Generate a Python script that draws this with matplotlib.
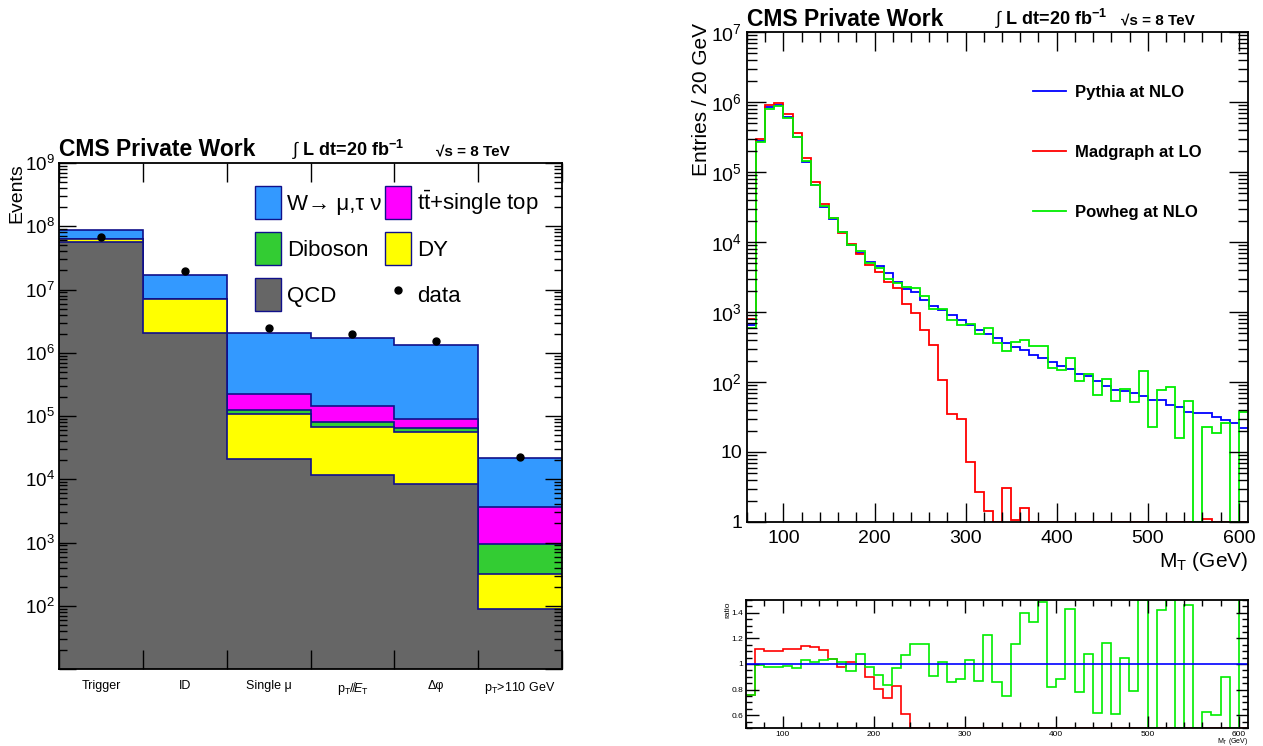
import numpy as np
import matplotlib
matplotlib.use("Agg")
import matplotlib.pyplot as plt
from matplotlib.ticker import FixedLocator, NullFormatter, FuncFormatter, MultipleLocator, LogLocator
from matplotlib.patches import Patch
from matplotlib.lines import Line2D

plt.rcParams['font.family'] = ['Liberation Sans', 'DejaVu Sans']
plt.rcParams['mathtext.fontset'] = 'custom'
plt.rcParams['mathtext.rm'] = 'Liberation Sans'
plt.rcParams['mathtext.it'] = 'Liberation Sans:italic'
plt.rcParams['mathtext.bf'] = 'Liberation Sans:bold'

# --- cut flow (left) ---
cuts = ["Trigger", "ID", "Single μ", r"p$_\mathrm{T}$/$\not{E}_\mathrm{T}$", "Δφ", r"p$_\mathrm{T}$>110 GeV"]
qcd = [5.6e7, 2.05e6, 2.1e4, 1.15e4, 8.3e3, 89]
dy = [7.6e6, 5.0e6, 8.6e4, 5.45e4, 4.67e4, 231]
diboson = [1e5, 3e4, 1.6e4, 1.4e4, 1.0e4, 640]
top = [3e5, 6e4, 9.7e4, 6.5e4, 2.6e4, 2740]
wjets = [2.3e7, 9.9e6, 1.83e6, 1.555e6, 1.24e6, 1.78e4]
data = [6.7e7, 1.95e7, 2.45e6, 1.95e6, 1.53e6, 2.23e4]

# --- M_T spectra (right), 10 GeV bins from 60 to 610 ---
mt_lo = 60
mt_hi = 610
pythia = [650, 2.8e5, 8.5e5, 8.96e5, 6.1e5, 3.16e5, 1.39e5, 6.52e4, 3.16e4, 2.15e4,
          1.39e4, 9.16e3, 7.05e3, 5.18e3, 4.55e3, 3.6e3, 2.65e3, 2.15e3, 1.9e3, 1.5e3,
          1.23e3, 1.06e3, 893, 757, 656, 557, 483, 419, 363, 315,
          288, 245, 217, 190, 170, 152, 131, 122, 105, 89,
          77, 75, 69, 63, 55, 55, 46.6, 43.6, 37.4, 36.6,
          36.6, 32, 28.7, 25.7, 21.8]
madgraph = [785, 2.93e5, 9.16e5, 9.7e5, 6.74e5, 3.56e5, 1.58e5, 7.28e4, 3.53e4, 2.2e4,
            1.36e4, 9.36e3, 6.8e3, 4.74e3, 3.7e3, 2.65e3, 2.2e3, 1.31e3, 955, 562,
            333, 106, 35, 29.4, 7.2, 2.68, 1.42, 0, 3.02, 1.06,
            1.58, 0, 0, 0, 0, 0, 0, 0, 0, 0,
            0, 0, 0, 0, 0, 0, 0, 0, 0, 0,
            1.1, 0, 0, 0, 0]
powheg = [590, 2.66e5, 8.0e5, 8.67e5, 5.97e5, 3.13e5, 1.45e5, 6.45e4, 3.3e4, 2.2e4,
          1.4e4, 9.06e3, 7.36e3, 4.96e3, 4.2e3, 2.95e3, 2.6e3, 2.27e3, 2.17e3, 1.71e3,
          1.12e3, 1.1e3, 774, 656, 670, 489, 582, 359, 275, 367,
          396, 325, 325, 157, 149, 217, 102, 132, 65, 112,
          53.7, 80.7, 52.5, 143, 22.5, 77, 86, 16, 54, 0,
          22.5, 18.5, 25.7, 0, 37]

# ratio panel values
ratio_mad = [0.76, 1.119, 1.103, 1.10, 1.119, 1.119, 1.142, 1.131, 1.113, 1.036,
             0.979, 1.015, 0.997, 0.897, 0.807, 0.735, 0.83, 0.61, 0.50, 0.37,
             0.27, 0.10, 0.04, 0.04, 0.01, 0.01, 0, 0, 0, 0,
             0, 0, 0, 0, 0, 0, 0, 0, 0, 0,
             0, 0, 0, 0, 0, 0, 0, 0, 0, 0,
             0, 0, 0, 0, 0]
ratio_pow = [0.755, 0.99, 0.977, 0.979, 0.987, 0.972, 1.028, 1.018, 1.031, 1.041,
             1.013, 0.948, 1.077, 0.977, 0.915, 0.838, 0.969, 1.072, 1.155, 1.157,
             0.907, 1.018, 0.858, 0.879, 1.034, 0.869, 1.224, 0.863, 0.753, 1.157,
             1.397, 1.33, 1.487, 0.817, 0.881, 1.43, 0.778, 1.082, 0.621, 1.165,
             0.613, 1.049, 0.786, 2.27, 0.41, 1.418, 1.85, 0.37, 1.461, 0.0,
             0.624, 0.603, 0.902, 0.0, 1.7]

W, H = 1263, 746
fig = plt.figure(figsize=(W / 100, H / 100), dpi=100)
navy = '#10108a'


def px(x0, y0, x1, y1):
    return [x0 / W, 1 - y1 / H, (x1 - x0) / W, (y1 - y0) / H]


def root_ticks(ax, major, minor):
    ax.tick_params(which='both', direction='in', top=True, right=True, width=1)
    ax.tick_params(which='major', length=major)
    ax.tick_params(which='minor', length=minor)
    for s in ax.spines.values():
        s.set_linewidth(1.3)


def pow10(v, pos):
    if v == 1:
        return '1'
    if v == 10:
        return '10'
    return r'$10^{%d}$' % round(np.log10(v))


def pow10_nobottom(v, pos):
    if v <= 10:
        return ''
    return r'$10^{%d}$' % round(np.log10(v))


# ================= left panel =================
ax = fig.add_axes(px(59, 163, 562, 669))
edges = np.arange(len(cuts) + 1)
centers = edges[:-1] + 0.5
c1 = np.array(qcd)
c2 = c1 + np.array(dy)
c3 = c2 + np.array(diboson)
c4 = c3 + np.array(top)
c5 = c4 + np.array(wjets)
for cum, col in [(c5, '#3399ff'), (c4, '#ff00ff'), (c3, '#33cc33'), (c2, '#ffff00'), (c1, '#666666')]:
    ax.stairs(cum, edges, baseline=1, fill=True, color=col, lw=0)
    ax.stairs(cum, edges, baseline=None, color=navy, lw=1.2)
ax.plot(centers, data, 'o', color='k', ms=5, zorder=5)
ax.set_yscale('log')
ax.set_xlim(0, len(cuts))
ax.set_ylim(10, 1e9)
ax.xaxis.set_major_locator(FixedLocator(edges))
ax.xaxis.set_major_formatter(NullFormatter())
ax.xaxis.set_minor_locator(FixedLocator(centers))
ax.set_xticklabels(cuts, minor=True)
ax.yaxis.set_major_locator(LogLocator(base=10, numticks=20))
ax.yaxis.set_minor_locator(LogLocator(base=10, subs=np.arange(2, 10), numticks=20))
ax.yaxis.set_minor_formatter(NullFormatter())
ax.yaxis.set_major_formatter(FuncFormatter(pow10_nobottom))
root_ticks(ax, 12, 6)
ax.tick_params(axis='x', which='major', length=14)
ax.tick_params(axis='x', which='minor', length=0, pad=8, labelsize=9)
ax.tick_params(axis='y', which='major', labelsize=13.5, pad=3)
ax.set_ylabel('Events', loc='top', fontsize=14)
ax.yaxis.set_label_coords(-0.066, 1.0)

handles = [Patch(facecolor='#3399ff', edgecolor=navy),
           Patch(facecolor='#33cc33', edgecolor=navy),
           Patch(facecolor='#666666', edgecolor=navy),
           Patch(facecolor='#ff00ff', edgecolor=navy),
           Patch(facecolor='#ffff00', edgecolor=navy),
           Line2D([], [], marker='o', color='k', ls='none', ms=5)]
labels = ['W→ μ,τ ν', 'Diboson', 'QCD', r'$\mathrm{t\bar{t}}$+single top', 'DY', 'data']
ax.legend(handles, labels, ncol=2, frameon=False, fontsize=16,
          loc='upper left', bbox_to_anchor=(255 / W, 1 - 186 / H), bbox_transform=fig.transFigure,
          borderpad=0, handlelength=1.15, handleheight=1.9, handletextpad=0.3,
          columnspacing=0.15, labelspacing=0.6, borderaxespad=0)

fig.text(59 / W, 1 - 150 / H, 'CMS Private Work', fontsize=16.5, fontweight='bold', va='center')
fig.text(292 / W, 1 - 150 / H, r'$\int$ L dt=20 fb$^{\mathbf{-1}}$', fontsize=13, fontweight='bold', va='center')
fig.text(436 / W, 1 - 151 / H, '√s = 8 TeV', fontsize=11, fontweight='bold', va='center')

# ================= right top panel =================
bins = np.arange(mt_lo, mt_hi + 1, 10)
ax2 = fig.add_axes(px(747, 32, 1248, 522))
for vals, col in [(pythia, '#0000ff'), (madgraph, '#ff0000'), (powheg, '#00ee00')]:
    ax2.stairs(np.clip(vals, 1, None), bins, baseline=None, color=col, lw=1.3)
ax2.set_yscale('log')
ax2.set_xlim(mt_lo, mt_hi)
ax2.set_ylim(1, 1e7)
ax2.xaxis.set_major_locator(MultipleLocator(100))
ax2.xaxis.set_minor_locator(MultipleLocator(20))
ax2.yaxis.set_major_locator(LogLocator(base=10, numticks=20))
ax2.yaxis.set_minor_locator(LogLocator(base=10, subs=np.arange(2, 10), numticks=20))
ax2.yaxis.set_minor_formatter(NullFormatter())
ax2.yaxis.set_major_formatter(FuncFormatter(pow10))
root_ticks(ax2, 14, 7)
ax2.tick_params(axis='both', which='major', labelsize=14)
ax2.tick_params(axis='x', pad=6)
ax2.set_ylabel('Entries / 20 GeV', loc='top', fontsize=15)
ax2.yaxis.set_label_coords(-0.072, 1.018)
ax2.set_xlabel(r'M$_\mathrm{T}$ (GeV)', loc='right', fontsize=15, labelpad=2)

leg_handles = [Line2D([], [], color='#0000ff', lw=1.3),
               Line2D([], [], color='#ff0000', lw=1.3),
               Line2D([], [], color='#00ee00', lw=1.3)]
ax2.legend(leg_handles, ['Pythia at NLO', 'Madgraph at LO', 'Powheg at NLO'],
           frameon=False, prop={'size': 12, 'weight': 'bold'},
           loc='upper left', bbox_to_anchor=(1033 / W, 1 - 85 / H), bbox_transform=fig.transFigure,
           borderpad=0, handlelength=2.0, handletextpad=0.5, labelspacing=2.7, borderaxespad=0)

fig.text(747 / W, 1 - 19 / H, 'CMS Private Work', fontsize=16.5, fontweight='bold', va='center')
fig.text(995 / W, 1 - 19 / H, r'$\int$ L dt=20 fb$^{\mathbf{-1}}$', fontsize=13, fontweight='bold', va='center')
fig.text(1121 / W, 1 - 20 / H, '√s = 8 TeV', fontsize=11, fontweight='bold', va='center')

# ================= ratio panel =================
ax3 = fig.add_axes(px(746, 600, 1248, 728))
ax3.axhline(1, color='#0000ff', lw=1.2)
ax3.stairs(np.clip(ratio_mad, 0.5, 1.5), bins, baseline=None, color='#ff0000', lw=1.2)
ax3.stairs(np.clip(ratio_pow, 0.5, 1.5), bins, baseline=None, color='#00ee00', lw=1.2)
ax3.set_xlim(mt_lo, mt_hi)
ax3.set_ylim(0.5, 1.5)
ax3.xaxis.set_major_locator(MultipleLocator(100))
ax3.xaxis.set_minor_locator(MultipleLocator(20))
ax3.yaxis.set_major_locator(FixedLocator([0.6, 0.8, 1.0, 1.2, 1.4]))
ax3.yaxis.set_minor_locator(MultipleLocator(0.05))
ax3.yaxis.set_major_formatter(FuncFormatter(lambda v, p: '%g' % round(v, 1)))
root_ticks(ax3, 9, 4)
ax3.tick_params(axis='both', which='major', labelsize=6, pad=2)
ax3.set_ylabel('ratio', loc='top', fontsize=6)
ax3.yaxis.set_label_coords(-0.03, 0.99)
ax3.set_xlabel(r'M$_\mathrm{T}$ (GeV)', loc='right', fontsize=5, labelpad=-1)

fig.savefig('out.png', dpi=100)
